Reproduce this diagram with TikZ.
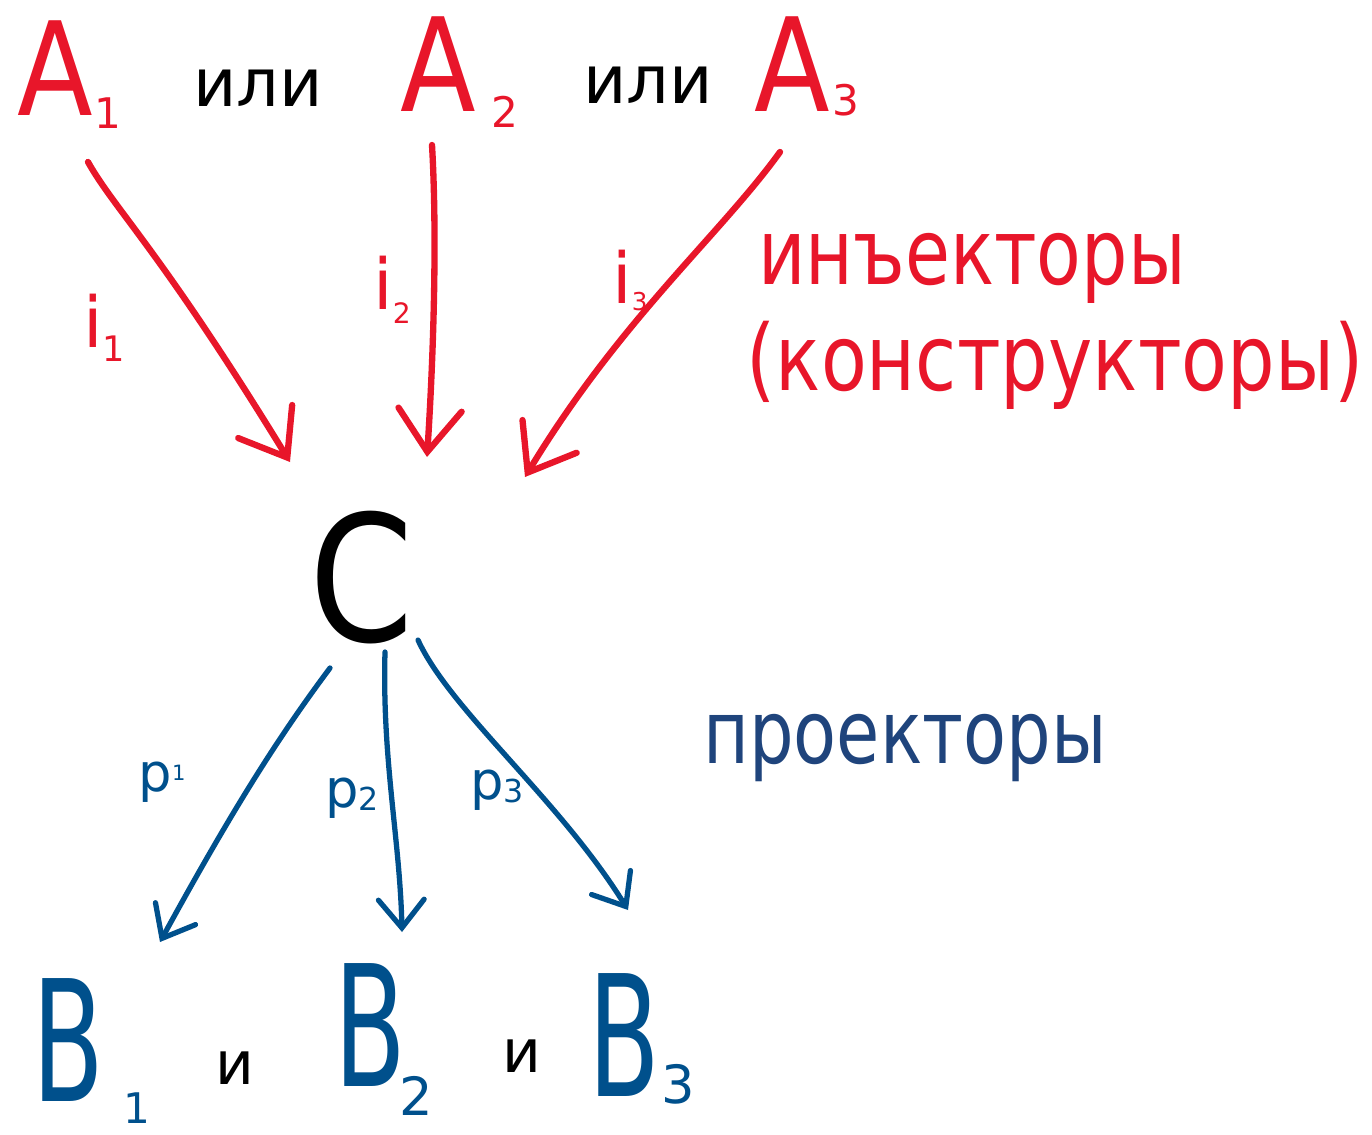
\documentclass[tikz,border=0pt]{standalone}
\usepackage{fontspec}
\setmainfont{DejaVu Sans}
\usetikzlibrary{arrows.meta}
\definecolor{cred}{HTML}{E8162A}
\definecolor{cblue}{HTML}{00508C}
\definecolor{cnavy}{HTML}{1F447C}
\tikzset{
  redarrow/.style={draw=cred, line width=3.6pt, line cap=round, -{Straight Barb[length=24pt,width=36pt,line cap=round]}},
  bluearrow/.style={draw=cblue, line width=3pt, line cap=round, -{Straight Barb[length=16pt,width=26pt,line cap=round]}},
  lbl/.style={inner sep=0pt, anchor=center},
  big/.style={lbl, font=\fontsize{74}{80}\selectfont},
  bigb/.style={lbl, text=cblue, font=\fontsize{96}{100}\selectfont},
  sub/.style={lbl, font=\fontsize{24}{28}\selectfont},
  word/.style={lbl, font=\fontsize{38}{44}\selectfont},
}
\begin{document}
\begin{tikzpicture}[x=0.02cm, y=-0.02cm]
\useasboundingbox (0,0) rectangle (1372,1135);
% top row
\node[big, text=cred] (a1) at (55,68) {\scalebox{0.85}[1]{A}};
\node[sub, text=cred] (a1s) at (108,113) {1};
\node[word] (or1) at (258,88) {или};
\node[big, text=cred] (a2) at (438,64) {\scalebox{0.85}[1]{A}};
\node[sub, text=cred] (a2s) at (505,112) {2};
\node[word] (or2) at (648,85) {или};
\node[big, text=cred] (a3) at (792,64) {\scalebox{0.85}[1]{A}};
\node[sub, text=cred] (a3s) at (846,100) {3};
% center
\node[lbl, font=\fontsize{100}{110}\selectfont] (c) at (362,578) {\scalebox{0.85}[1]{C}};
% bottom row
\node[bigb] (b1) at (68,1040) {\scalebox{0.62}[1]{B}};
\node[sub, text=cblue] (b1s) at (137,1108) {1};
\node[word, font=\fontsize{34}{40}\selectfont] (and1) at (235,1068) {и};
\node[bigb] (b2) at (370,1025) {\scalebox{0.62}[1]{B}};
\node[sub, text=cblue, font=\fontsize{30}{34}\selectfont] (b2s) at (416,1096) {2};
\node[word, font=\fontsize{34}{40}\selectfont] (and2) at (522,1056) {и};
\node[bigb] (b3) at (624,1035) {\scalebox{0.62}[1]{B}};
\node[sub, text=cblue, font=\fontsize{30}{34}\selectfont] (b3s) at (678,1084) {3};
% descriptions
\node[lbl, text=cred, font=\fontsize{52}{56}\selectfont] (inj) at (972,268) {\scalebox{0.8}[1]{инъекторы}};
\node[lbl, text=cred, font=\fontsize{52}{56}\selectfont] (cons) at (1055,365) {\scalebox{0.82}[1]{(конструкторы)}};
\node[lbl, text=cnavy, font=\fontsize{50}{54}\selectfont] (proj) at (905,748) {\scalebox{0.8}[1]{проекторы}};
% arrow ends
\coordinate (t1) at (88,162);   \coordinate (h1) at (290,462);
\coordinate (t2) at (432,145);  \coordinate (h2) at (427,457);
\coordinate (t3) at (780,152);  \coordinate (h3) at (525,477);
\coordinate (u1) at (330,668);  \coordinate (g1) at (160,942);
\coordinate (u2) at (385,652);  \coordinate (g2) at (402,932);
\coordinate (u3) at (418,640);  \coordinate (g3) at (628,910);
% injections
\draw[redarrow] (t1) .. controls (115,210) and (160,250) .. (h1);
\draw[redarrow] (t2) .. controls (438,250) and (432,380) .. (h2);
\draw[redarrow] (t3) .. controls (720,235) and (620,320) .. (h3);
\node[lbl, text=cred, font=\fontsize{40}{44}\selectfont] (i1) at (104,328) {i\raisebox{-8pt}{\fontsize{20}{22}\selectfont 1}};
\node[lbl, text=cred, font=\fontsize{40}{44}\selectfont] (i2) at (392,290) {i\raisebox{-8pt}{\fontsize{16}{18}\selectfont 2}};
\node[lbl, text=cred, font=\fontsize{40}{44}\selectfont] (i3) at (630,280) {i\raisebox{-4pt}{\fontsize{14}{16}\selectfont 3}};
% projections
\draw[bluearrow] (u1) .. controls (280,735) and (235,805) .. (g1);
\draw[bluearrow] (u2) .. controls (382,760) and (400,840) .. (g2);
\draw[bluearrow] (u3) .. controls (450,710) and (560,800) .. (g3);
\node[lbl, text=cblue, font=\fontsize{30}{34}\selectfont] (p1) at (162,782) {p\raisebox{6pt}{\fontsize{12}{14}\selectfont 1}};
\node[lbl, text=cblue, font=\fontsize{30}{34}\selectfont] (p2) at (352,798) {p\raisebox{-2pt}{\fontsize{18}{20}\selectfont 2}};
\node[lbl, text=cblue, font=\fontsize{30}{34}\selectfont] (p3) at (497,790) {p\raisebox{-2pt}{\fontsize{18}{20}\selectfont 3}};
\end{tikzpicture}
\end{document}
